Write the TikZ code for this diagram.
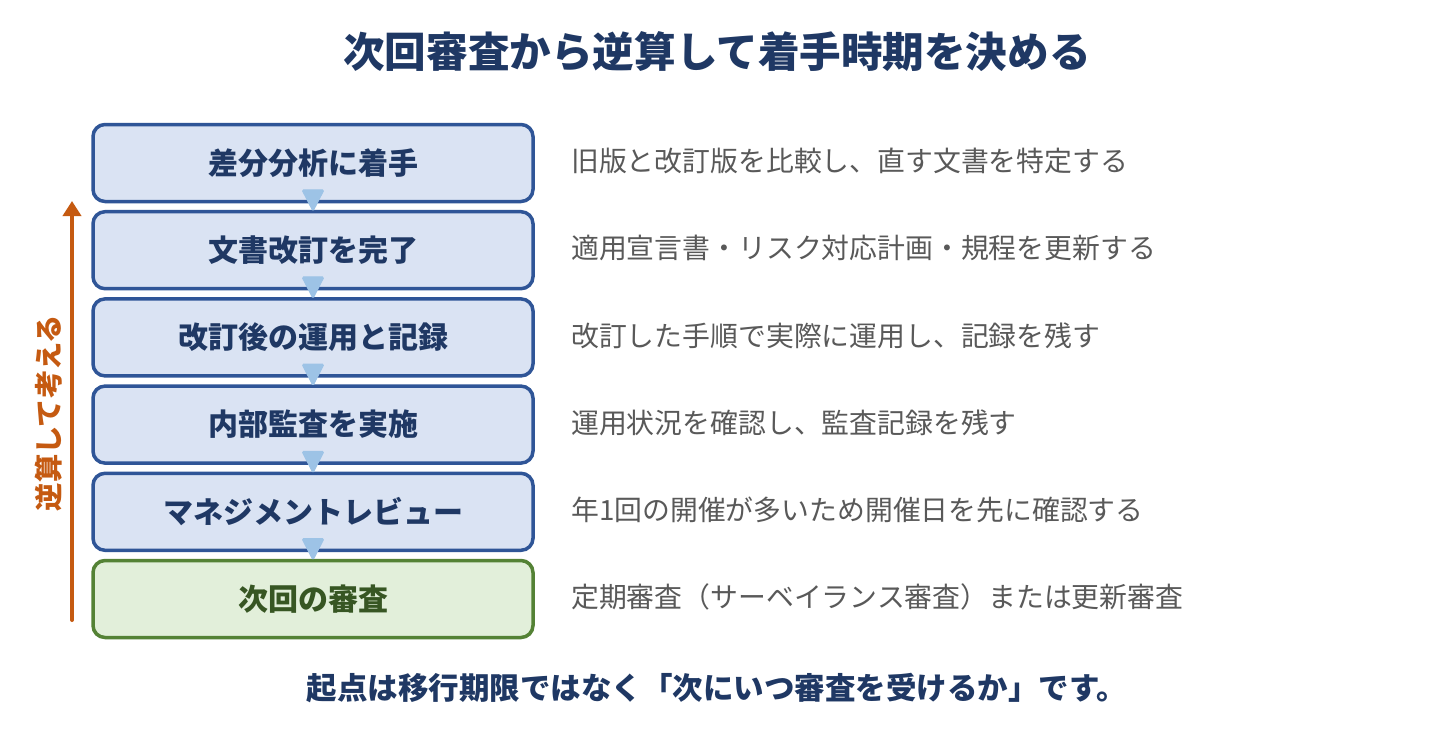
\documentclass[tikz,border=0pt]{standalone}
\usepackage{fontspec}
\setmainfont{Noto Sans CJK JP}
\usetikzlibrary{arrows.meta,calc}
\definecolor{navy}{HTML}{1F3864}
\definecolor{boxline}{HTML}{2F5597}
\definecolor{boxfill}{HTML}{DAE3F3}
\definecolor{grline}{HTML}{548235}
\definecolor{grfill}{HTML}{E2EFDA}
\definecolor{grtext}{HTML}{375623}
\definecolor{tricol}{HTML}{9DC3E6}
\definecolor{desccol}{HTML}{595959}
\definecolor{orangecol}{HTML}{C55A11}
\tikzset{
  stepbox/.style={draw=boxline, fill=boxfill, line width=3.5pt, rounded corners=12pt,
    minimum width=440pt, minimum height=77pt, inner sep=0pt, text=navy,
    font=\bfseries\fontsize{30}{36}\selectfont},
  goalbox/.style={stepbox, draw=grline, fill=grfill, text=grtext},
  desc/.style={anchor=west, inner sep=0pt, text=desccol, font=\fontsize{27.85}{32}\selectfont},
  tri/.style={fill=tricol, draw=tricol, line width=1pt, rounded corners=1.5pt},
}
\newcommand{\mytri}[1]{\filldraw[tri] ($(#1.south)+(-11,-13.5)$) -- ($(#1.south)+(11,-13.5)$) -- ($(#1.south)+(0,8)$) -- cycle;}
\begin{document}
\begin{tikzpicture}[x=1pt,y=-1pt]
\useasboundingbox (0,0) rectangle (1434,748);
\fill[white] (0,0) rectangle (1434,748);

\node[text=navy, font=\bfseries\fontsize{41.6}{48}\selectfont] (title) at (717,52) {次回審査から逆算して着手時期を決める};

\node[stepbox] (b1) at (313,163.0) {差分分析に着手};
\node[stepbox] (b2) at (313,250.2) {文書改訂を完了};
\node[stepbox] (b3) at (313,337.4) {改訂後の運用と記録};
\node[stepbox] (b4) at (313,424.6) {内部監査を実施};
\node[stepbox] (b5) at (313,511.8) {マネジメントレビュー};
\node[goalbox] (b6) at (313,599.0) {次回の審査};

\mytri{b1}
\mytri{b2}
\mytri{b3}
\mytri{b4}
\mytri{b5}

\node[desc] (d1) at (571,161) {旧版と改訂版を比較し、直す文書を特定する};
\node[desc] (d2) at (571,248.2) {適用宣言書・リスク対応計画・規程を更新する};
\node[desc] (d3) at (571,335.4) {改訂した手順で実際に運用し、記録を残す};
\node[desc] (d4) at (571,422.6) {運用状況を確認し、監査記録を残す};
\node[desc] (d5) at (571,509.8) {年1回の開催が多いため開催日を先に確認する};
\node[desc] (d6) at (571,597) {定期審査（サーベイランス審査）または更新審査};

\coordinate (arrS) at (72,620);
\coordinate (arrE) at (72,201);
\draw[orangecol, line width=4pt, line cap=round, -{Triangle[width=18pt,length=15pt]}] (arrS) -- (arrE);
\node[rotate=90, text=orangecol, font=\bfseries\fontsize{28.3}{32}\selectfont] (vt) at (49,413) {逆算して考える};

\node[text=navy, font=\bfseries\fontsize{30.5}{36}\selectfont] (foot) at (717,688) {起点は移行期限ではなく「次にいつ審査を受けるか」です。};
\end{tikzpicture}
\end{document}
